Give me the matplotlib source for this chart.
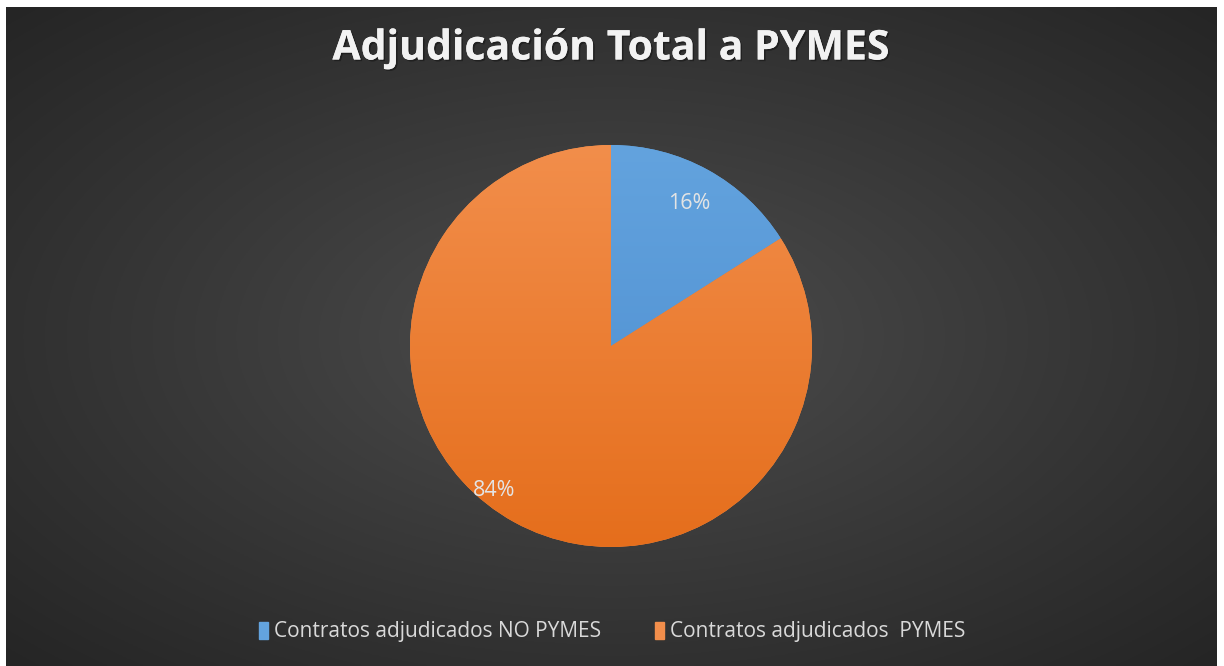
import numpy as np
import matplotlib
matplotlib.use("Agg")
from matplotlib import pyplot as plt
from matplotlib import patheffects as pe

# datos
labels = ['Contratos adjudicados NO PYMES', 'Contratos adjudicados  PYMES']
values = [16, 84]
colors_top = ['#63A3DE', '#F28E4B']
colors_bot = ['#4A8BCE', '#E56E1C']
title = 'Adjudicación Total a PYMES'

plt.rcParams['font.family'] = ['Open Sans', 'DejaVu Sans']

fig = plt.figure(figsize=(12.24, 6.66), dpi=100)
fig.patch.set_facecolor('white')

# fondo con degradado radial
bg = fig.add_axes([6 / 1224, 0, 1211 / 1224, 659 / 666])
yy, xx = np.mgrid[-1:1:300j, -1:1:600j]
r = np.sqrt((xx * 1.0) ** 2 + (yy * 1.0) ** 2) / np.sqrt(2)
c0, c1 = np.array([0x4f, 0x4f, 0x4f]) / 255, np.array([0x25, 0x25, 0x25]) / 255
grad = c0 + (c1 - c0) * np.clip(r, 0, 1)[..., None] ** 0.9
bg.imshow(grad, extent=[0, 1, 0, 1], aspect='auto')
bg.set_xlim(0, 1), bg.set_ylim(0, 1)
bg.axis('off')

bg.text(0.5, (666 - 49) / 659, title, ha='center', va='center', color='#f2f2f2',
        fontsize=29.5, fontweight='bold',
        path_effects=[pe.withSimplePatchShadow(offset=(1.2, -1.2), shadow_rgbFace='black', alpha=0.35), pe.Normal()])

# pie
size = 402
ax = fig.add_axes([(611 - size / 2) / 1224, (666 - 346 - size / 2) / 666, size / 1224, size / 666])
wedges, texts, autotexts = ax.pie(values, startangle=90, counterclock=False,
                                  colors=colors_top, autopct='%1.0f%%', pctdistance=0.81,
                                  wedgeprops=dict(linewidth=0),
                                  textprops=dict(color='#e4e4e4', fontsize=15.5))
ax.set_xlim(-1, 1), ax.set_ylim(-1, 1)
for w, ct, cb in zip(wedges, colors_top, colors_bot):
    t = np.linspace(0, 1, 256)[:, None]
    ct_rgb = np.array(matplotlib.colors.to_rgb(ct))
    cb_rgb = np.array(matplotlib.colors.to_rgb(cb))
    g = ct_rgb + (cb_rgb - ct_rgb) * t[..., None]
    g = np.repeat(g, 2, axis=1)
    im = ax.imshow(g, extent=[-1, 1, -1, 1], aspect='auto', zorder=w.get_zorder() + 0.1)
    im.set_clip_path(w)
for at in autotexts:
    at.set_zorder(5)
autotexts[1].set_position((-0.58, -0.72))

# leyenda
handles = [plt.Rectangle((0, 0), 1, 1, color=c) for c in colors_top]
leg = fig.legend(handles, labels, loc='center', bbox_to_anchor=(0.5, (666 - 632) / 666),
                 ncol=2, frameon=False, fontsize=15, handlelength=0.45, handleheight=0.9,
                 handletextpad=0.25, columnspacing=2.6, labelcolor='#d9d9d9')

fig.savefig('out.png', dpi=100, facecolor='white')
